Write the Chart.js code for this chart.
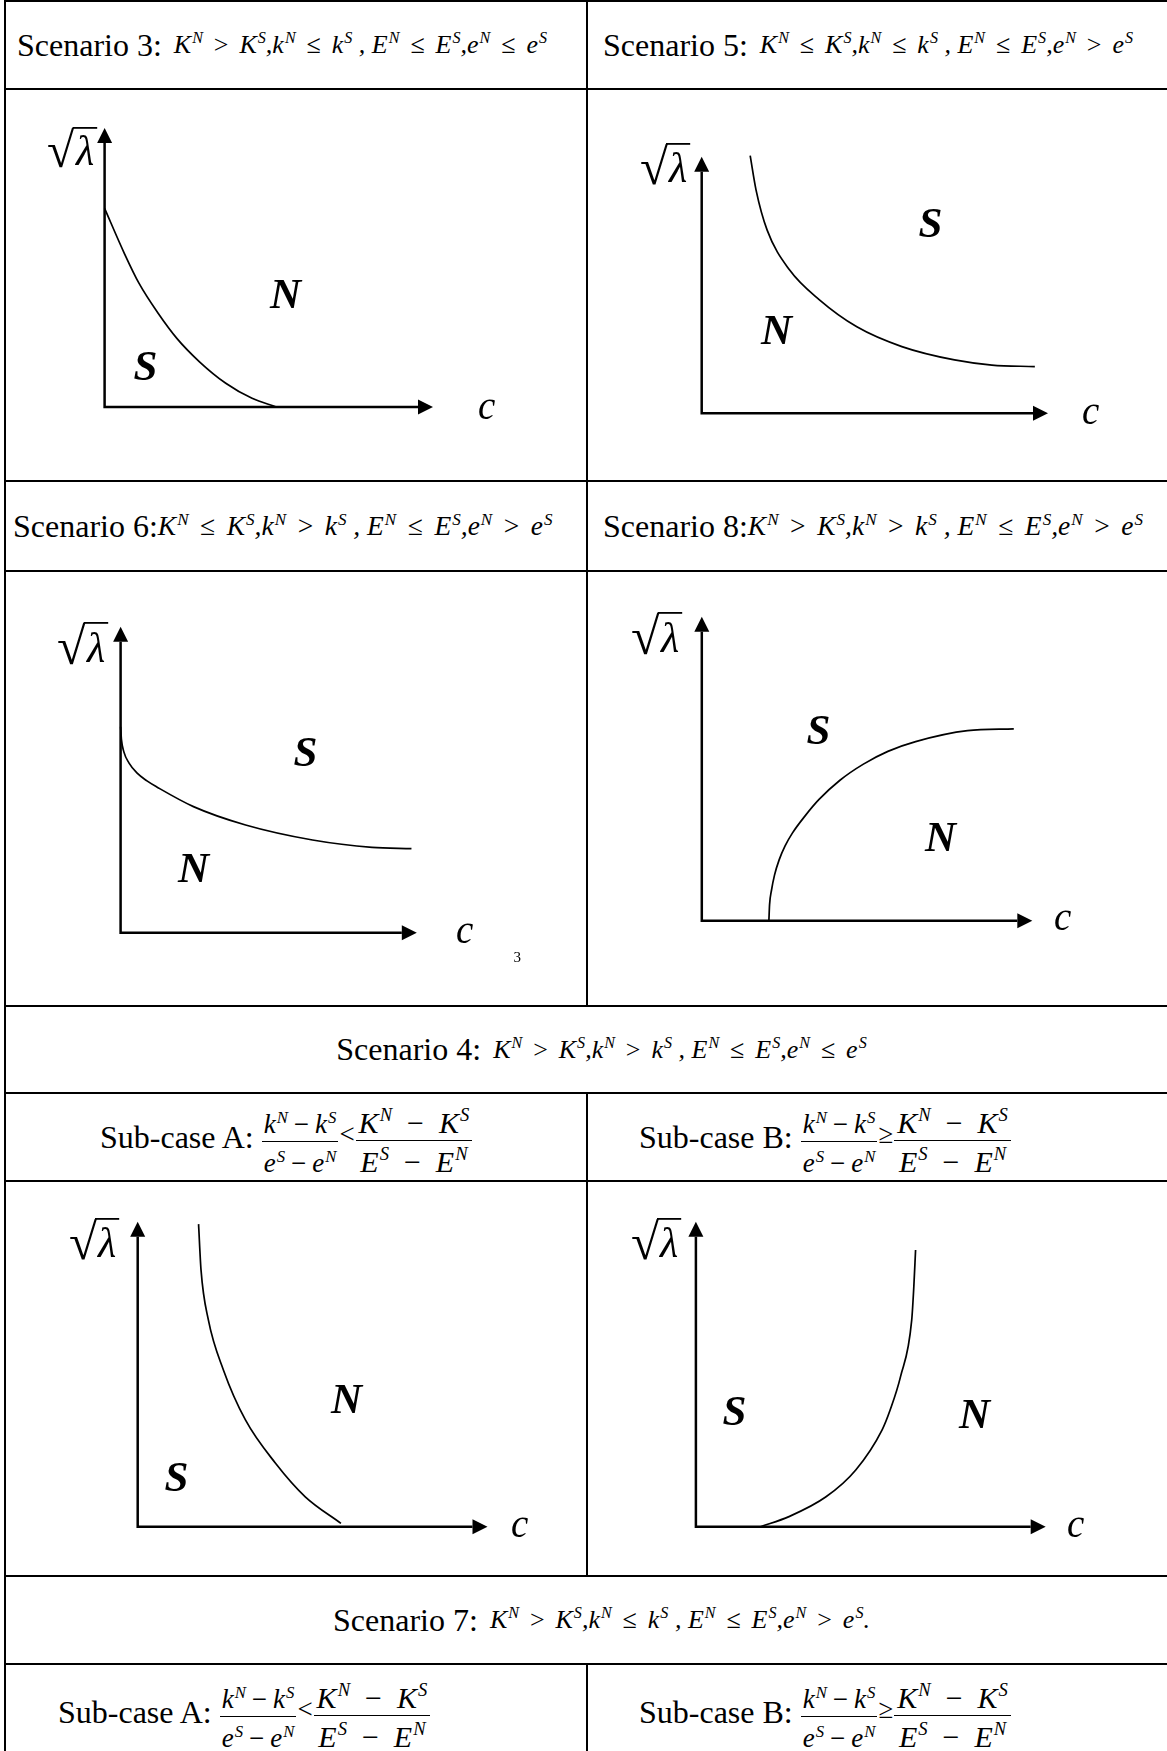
<!DOCTYPE html>
<html>
<head>
<meta charset="utf-8">
<script src="https://cdn.jsdelivr.net/npm/chart.js@4.4.1/dist/chart.umd.min.js"></script>
<style>
  body { margin: 0; background: #fff; }
  #page { position: relative; width: 1167px; height: 1751px; overflow: hidden;
          font-family: 'Liberation Serif', 'Times New Roman', serif; color: #000; }
  .hl { position: absolute; left: 4px; right: 0; height: 2px; background: #000; }
  .vl { position: absolute; width: 2px; background: #000; }
  .cell { position: absolute; display: flex; align-items: center; white-space: nowrap; font-size: 32px; }
  .cell.center { justify-content: center; }
  .m { font-style: italic; font-size: 26px; margin-left: 4px; }
  .m.big { font-size: 27.5px; margin-left: 0; }
  .m sup { font-size: 0.62em; position: relative; top: -0.6em; vertical-align: baseline; line-height: 0; margin-left: 1px; }
  .op { font-style: normal; margin: 0 0.42em; }
  .mi { font-style: normal; margin: 0 0.22em; }
  .fr { font-size: 27px; margin-left: 0; }
  .frac { display: inline-flex; flex-direction: column; align-items: center; vertical-align: middle;
          position: relative; top: 5px; }
  .frac .num { border-bottom: 1.5px solid #000; padding: 4px 2px 3px 2px; line-height: 1; }
  .frac .den { padding: 8px 2px 0 2px; line-height: 1; }
  .frac.wide { font-size: 30px; top: 4px; }
  .frac.wide .mi { margin: 0 0.5em; }
  .frac.wide .num { padding: 2px 3px 2px 3px; }
  .frac.wide .den { padding: 6px 3px 0 3px; }
  canvas { position: absolute; }
</style>
</head>
<body>
<div id="page"></div>
<script>
// curve points, in axis units (each arrow tip = 10)
// Scenario 3
const s3C = [0, 0.60, 1.05, 1.63, 2.20, 2.89, 3.69, 4.49, 5.23];
const s3L = [7.12, 5.51, 4.43, 3.36, 2.46, 1.62, 0.85, 0.31, 0];
// Scenario 5
const s5C = [1.40, 1.57, 1.89, 2.54, 3.40, 4.48, 5.78, 7.30, 8.38, 9.62];
const s5L = [10.04, 8.70, 7.14, 5.58, 4.42, 3.37, 2.60, 2.08, 1.88, 1.82];
// Scenario 6
const s6C = [0, 0.03, 0.11, 0.28, 0.55, 0.89, 1.21, 2.46, 4.22, 6.48, 8.49, 9.82];
const s6L = [6.73, 6.30, 5.91, 5.55, 5.22, 4.96, 4.77, 4.12, 3.52, 3.03, 2.79, 2.75];
// Scenario 8
const s8C = [2.03, 2.05, 2.11, 2.20, 2.34, 2.52, 2.74, 3.12, 3.54, 4.18, 4.89, 5.63, 6.47, 8.04, 9.44];
const s8L = [0, 0.52, 1.01, 1.50, 2.00, 2.46, 2.88, 3.44, 3.98, 4.62, 5.15, 5.57, 5.89, 6.25, 6.31];
// Scenario 4, sub-case A
const s4aC = [1.74, 1.81, 2.02, 2.45, 3.08, 3.94, 4.79, 5.81];
const s4aL = [9.92, 8.42, 6.78, 5.14, 3.50, 2.08, 0.98, 0.11];
// Scenario 4, sub-case B
const s4bC = [1.85, 2.66, 3.72, 4.57, 5.32, 5.55, 5.85, 6.17, 6.23, 6.28];
const s4bL = [0, 0.33, 0.98, 1.86, 3.17, 3.82, 4.92, 6.78, 7.87, 9.07];

// relations for K, k, E, e in each scenario heading
const relations = {
  s3: ['>', '≤', '≤', '≤'],
  s5: ['≤', '≤', '≤', '>'],
  s6: ['≤', '>', '≤', '>'],
  s8: ['>', '>', '≤', '>'],
  s4: ['>', '>', '≤', '≤'],
  s7: ['>', '≤', '≤', '>']
};

const page = document.getElementById('page');

// table rules
const rowLines = [1, 89, 481, 571, 1006, 1093, 1181, 1576, 1664];
rowLines.forEach(y => {
  const d = document.createElement('div');
  d.className = 'hl';
  d.style.top = (y - 1) + 'px';
  page.appendChild(d);
});
const colLines = [[4, 0, 1751], [586, 0, 1006], [586, 1093, 1576], [586, 1664, 1751]];
colLines.forEach(([x, y0, y1]) => {
  const d = document.createElement('div');
  d.className = 'vl';
  d.style.left = x + 'px';
  d.style.top = y0 + 'px';
  d.style.height = (y1 - y0) + 'px';
  page.appendChild(d);
});

// headings
const sup = (b, s) => `${b}<sup>${s}</sup>`;
function cond(r, cls) {
  return `<span class="m ${cls || ''}">${sup('K', 'N')}<span class="op">${r[0]}</span>${sup('K', 'S')},` +
    `${sup('k', 'N')}<span class="op">${r[1]}</span>${sup('k', 'S')} , ` +
    `${sup('E', 'N')}<span class="op">${r[2]}</span>${sup('E', 'S')},` +
    `${sup('e', 'N')}<span class="op">${r[3]}</span>${sup('e', 'S')}</span>`;
}
const diff = (v, p, q) => `${sup(v, p)}<span class="mi">−</span>${sup(v, q)}`;
const frac = (a, b, cls) => `<span class="frac ${cls || ''}"><span class="num">${a}</span><span class="den">${b}</span></span>`;
function subcase(name, rel) {
  return `Sub-case ${name}:&nbsp; <span class="m fr">${frac(diff('k', 'N', 'S'), diff('e', 'S', 'N'))}` +
    `<span class="op" style="margin:0 1px">${rel}</span>${frac(diff('K', 'N', 'S'), diff('E', 'S', 'N'), 'wide')}</span>`;
}

const headings = [
  [17, 1, 570, 88, false, 'Scenario 3:&nbsp; ' + cond(relations.s3)],
  [603, 1, 564, 88, false, 'Scenario 5:&nbsp; ' + cond(relations.s5)],
  [13, 481, 570, 90, false, 'Scenario 6:' + cond(relations.s6, 'big')],
  [603, 481, 564, 90, false, 'Scenario 8:' + cond(relations.s8, 'big')],
  [6, 1006, 1191, 87, true, 'Scenario 4:&nbsp; ' + cond(relations.s4)],
  [100, 1093, 480, 88, false, subcase('A', '<')],
  [639, 1093, 520, 88, false, subcase('B', '≥')],
  [6, 1576, 1191, 88, true, 'Scenario 7:&nbsp; ' + cond(relations.s7) + '<span class="m" style="margin:0">.</span>'],
  [58, 1664, 520, 96, false, subcase('A', '<')],
  [639, 1664, 520, 96, false, subcase('B', '≥')]
];
headings.forEach(([x, y, w, h, center, html]) => {
  const d = document.createElement('div');
  d.className = 'cell' + (center ? ' center' : '');
  Object.assign(d.style, { left: x + 'px', top: y + 'px', width: w + 'px', height: h + 'px' });
  d.innerHTML = html;
  page.appendChild(d);
});

// plot cells: canvas box, axis origin, arrow tips (page px) and label places
const plots = [
  { c: s3C, l: s3L, box: [6, 90, 580, 390], origin: [104.6, 407], tip: [433, 128],
    root: [47, 127, 168], labels: [['N', 285, 294], ['S', 145, 366], ['c', 488, 409]] },
  { c: s5C, l: s5L, box: [588, 90, 579, 390], origin: [701.7, 413.3], tip: [1048, 156.7],
    root: [640, 143, 185], labels: [['S', 930, 223], ['N', 776, 330], ['c', 1092, 414]] },
  { c: s6C, l: s6L, box: [6, 572, 580, 433], origin: [120.6, 932.7], tip: [416.8, 626.7],
    root: [57, 622, 665], labels: [['S', 305, 752], ['N', 193, 868], ['c', 466, 933], ['3', 517, 957]] },
  { c: s8C, l: s8L, box: [588, 572, 579, 433], origin: [701.8, 920.7], tip: [1032.3, 616.7],
    root: [631, 612, 655], labels: [['S', 818, 730], ['N', 940, 837], ['c', 1064, 920]] },
  { c: s4aC, l: s4aL, box: [6, 1182, 580, 393], origin: [137.7, 1526.7], tip: [487.5, 1221.7],
    root: [69, 1218, 1260], labels: [['N', 346, 1399], ['S', 176, 1477], ['c', 521, 1527]] },
  { c: s4bC, l: s4bL, box: [588, 1182, 579, 393], origin: [695.9, 1526.7], tip: [1045.7, 1221.7],
    root: [631, 1218, 1260], labels: [['S', 734, 1411], ['N', 974, 1414], ['c', 1077, 1527]] }
];

function labelFont(t) {
  if (t === 'N' || t === 'S') return 'italic bold 43px "Liberation Serif"';
  if (t === '3') return '15px "Liberation Serif"';
  return 'italic 39px "Liberation Serif"';
}

const axesPlugin = {
  id: 'axesAndLabels',
  beforeDatasetsDraw(chart, args, opts) {
    const ctx = chart.ctx, xs = chart.scales.x, ys = chart.scales.y;
    const ox = xs.getPixelForValue(0), oy = ys.getPixelForValue(0);
    const tx = xs.getPixelForValue(10), ty = ys.getPixelForValue(10);
    const head = 15, half = 7.5;
    ctx.save();
    ctx.strokeStyle = '#000';
    ctx.fillStyle = '#000';
    ctx.lineWidth = 2.5;
    ctx.beginPath();
    ctx.moveTo(ox, ty + head);
    ctx.lineTo(ox, oy);
    ctx.lineTo(tx - head, oy);
    ctx.stroke();
    ctx.beginPath();
    ctx.moveTo(ox, ty); ctx.lineTo(ox - half, ty + head); ctx.lineTo(ox + half, ty + head);
    ctx.closePath(); ctx.fill();
    ctx.beginPath();
    ctx.moveTo(tx, oy); ctx.lineTo(tx - head, oy - half); ctx.lineTo(tx - head, oy + half);
    ctx.closePath(); ctx.fill();
    ctx.restore();
  },
  afterDatasetsDraw(chart, args, opts) {
    const ctx = chart.ctx, p = opts.plot, bx = p.box[0], by = p.box[1];
    ctx.save();
    ctx.fillStyle = '#000';
    ctx.strokeStyle = '#000';
    // radical sign with lambda
    const [rx, rTop, rBot] = p.root;
    ctx.font = '40px "Liberation Serif"';
    let m = ctx.measureText('√');
    const hh = m.actualBoundingBoxAscent + m.actualBoundingBoxDescent;
    const size = 40 * (rBot - rTop) / hh;
    ctx.font = size + 'px "Liberation Serif"';
    m = ctx.measureText('√');
    const base = rBot - by - m.actualBoundingBoxDescent;
    ctx.fillText('√', rx - bx, base);
    const lx = rx - bx + m.actualBoundingBoxRight - 1;
    ctx.font = 'italic 42px "Liberation Serif"';
    const lm = ctx.measureText('λ');
    ctx.fillText('λ', lx + 2, rBot - by - 3);
    ctx.lineWidth = 1.8;
    ctx.beginPath();
    ctx.moveTo(lx - 1, rTop - by + 0.9);
    ctx.lineTo(lx + lm.width + 5, rTop - by + 0.9);
    ctx.stroke();
    // region and axis letters, centred on their ink box
    p.labels.forEach(([t, cx, cy]) => {
      ctx.font = labelFont(t);
      const q = ctx.measureText(t);
      const x = cx - bx - (q.actualBoundingBoxRight - q.actualBoundingBoxLeft) / 2 + q.actualBoundingBoxLeft;
      const y = cy - by + (q.actualBoundingBoxAscent - q.actualBoundingBoxDescent) / 2;
      ctx.fillText(t, x, y);
    });
    ctx.restore();
  }
};

plots.forEach(p => {
  const [bx, by, w, h] = p.box;
  const cv = document.createElement('canvas');
  cv.width = w; cv.height = h;
  Object.assign(cv.style, { left: bx + 'px', top: by + 'px', width: w + 'px', height: h + 'px' });
  page.appendChild(cv);
  const ox = p.origin[0] - bx, oy = p.origin[1] - by;
  const ux = (p.tip[0] - p.origin[0]) / 10;
  const uy = (p.origin[1] - p.tip[1]) / 10;
  new Chart(cv, {
    type: 'scatter',
    data: {
      datasets: [{
        data: p.c.map((v, i) => ({ x: v, y: p.l[i] })),
        showLine: true,
        borderColor: '#000',
        borderWidth: 1.7,
        pointRadius: 0,
        cubicInterpolationMode: 'monotone',
        fill: false
      }]
    },
    options: {
      responsive: false,
      animation: false,
      events: [],
      layout: { padding: 0 },
      plugins: { legend: { display: false }, tooltip: { enabled: false }, axesAndLabels: { plot: p } },
      scales: {
        x: { type: 'linear', display: false, min: -ox / ux, max: (w - ox) / ux },
        y: { type: 'linear', display: false, min: -(h - oy) / uy, max: oy / uy }
      }
    },
    plugins: [axesPlugin]
  });
});
</script>
</body>
</html>
